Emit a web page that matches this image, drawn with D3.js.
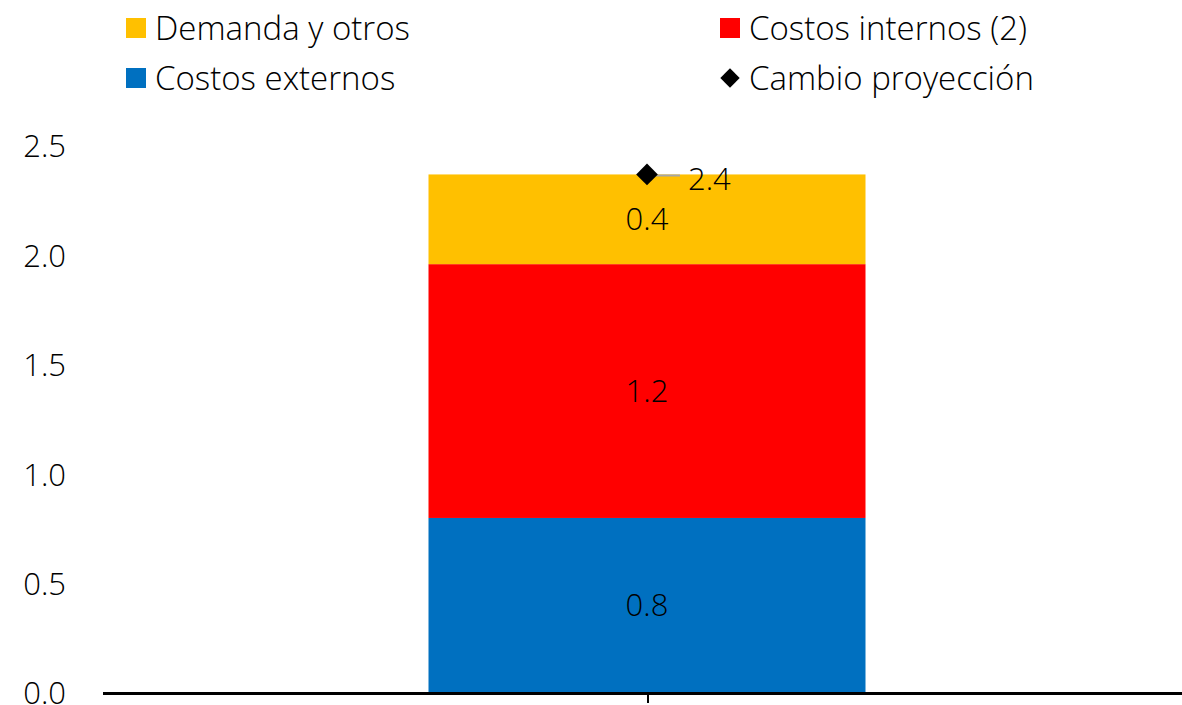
<!DOCTYPE html>
<html>
<head>
<meta charset="utf-8">
<script src="https://cdn.jsdelivr.net/npm/d3@7"></script>
<style>
  body { margin: 0; background: #fff; }
  svg text { font-family: "Open Sans", Lato, sans-serif; font-weight: 300; fill: #000; }
</style>
</head>
<body>
<svg width="1182" height="705"></svg>
<script>
var categories = ["2024"];
var seriesNames = ["Costos externos", "Costos internos (2)", "Demanda y otros"];
var seriesColors = ["#0070c0", "#ff0000", "#ffc000"];
var costosExternos = [0.80];
var costosInternos = [1.16];
var demandaOtros = [0.41];
var cambioProyeccion = [2.37];
var yTicks = [0, 0.5, 1.0, 1.5, 2.0, 2.5];

function init() {
    var svg = d3.select('svg');
    var numSize = '31px';

    var x = d3.scaleBand().domain(categories).range([103, 1192]).paddingInner(0).paddingOuter(0.3);
    var y = d3.scaleLinear().domain([0, 2.5]).range([693, 146]);

    var rows = categories.map(function (c, i) {
        return { cat: c, v0: costosExternos[i], v1: costosInternos[i], v2: demandaOtros[i] };
    });
    var stack = d3.stack().keys(["v0", "v1", "v2"])(rows);

    // y axis labels only
    var yAxis = d3.axisLeft(y).tickValues(yTicks).tickFormat(d3.format('.1f')).tickSize(0).tickPadding(0);
    var gy = svg.append('g').attr('transform', 'translate(66,0)').call(yAxis);
    gy.select('.domain').remove();
    gy.selectAll('text').style('font-size', numSize).attr('dy', '0.35em');

    // bars
    var barW = 437;
    var cx = 647;
    var layer = svg.selectAll('.layer').data(stack).enter().append('g')
        .attr('class', 'layer')
        .attr('fill', function (d, i) { return seriesColors[i]; });
    layer.selectAll('rect').data(function (d) { return d; }).enter().append('rect')
        .attr('x', cx - barW / 2)
        .attr('width', barW)
        .attr('y', function (d) { return y(d[1]); })
        .attr('height', function (d) { return y(d[0]) - y(d[1]); });

    // segment labels
    stack.forEach(function (s) {
        s.forEach(function (d) {
            svg.append('text')
                .attr('x', cx)
                .attr('y', (y(d[0]) + y(d[1])) / 2)
                .attr('dy', '0.35em')
                .attr('text-anchor', 'middle')
                .style('font-size', numSize)
                .text(d3.format('.1f')(d[1] - d[0]));
        });
    });

    // x axis
    var xAxis = d3.axisBottom(x).tickSize(10).tickFormat('');
    var gx = svg.append('g').attr('transform', 'translate(0,' + y(0) + ')').call(xAxis);
    gx.select('.domain').attr('d', 'M103,0.5H1182').attr('stroke', '#000').attr('stroke-width', 3);
    gx.selectAll('.tick line').attr('stroke', '#000').attr('stroke-width', 2).attr('x1', 0.5).attr('x2', 0.5);

    // cambio proyeccion marker
    cambioProyeccion.forEach(function (v) {
        svg.append('line')
            .attr('x1', cx).attr('x2', cx + 33)
            .attr('y1', y(v) + 1).attr('y2', y(v) + 1)
            .attr('stroke', '#a6a6a6').attr('stroke-width', 2);
        svg.append('path')
            .attr('d', d3.symbol(d3.symbolDiamond2, 300)())
            .attr('transform', 'translate(' + cx + ',' + y(v) + ')')
            .attr('fill', '#000');
        svg.append('text')
            .attr('x', cx + 41)
            .attr('y', y(v) + 5)
            .attr('dy', '0.35em')
            .style('font-size', numSize)
            .text(d3.format('.1f')(v));
    });

    // legend
    var legend = [
        { name: seriesNames[2], color: seriesColors[2], x: 126, y: 28, shape: 'square' },
        { name: seriesNames[1], color: seriesColors[1], x: 720, y: 28, shape: 'square' },
        { name: seriesNames[0], color: seriesColors[0], x: 126, y: 78, shape: 'square' },
        { name: 'Cambio proyección', color: '#000', x: 720, y: 78, shape: 'diamond' }
    ];
    var lg = svg.selectAll('.lg').data(legend).enter().append('g')
        .attr('class', 'lg')
        .attr('transform', function (d) { return 'translate(' + d.x + ',' + d.y + ')'; });
    lg.filter(function (d) { return d.shape === 'square'; }).append('rect')
        .attr('x', 0).attr('y', -10).attr('width', 20).attr('height', 20)
        .attr('fill', function (d) { return d.color; });
    lg.filter(function (d) { return d.shape === 'diamond'; }).append('path')
        .attr('d', d3.symbol(d3.symbolDiamond2, 240)())
        .attr('transform', 'translate(10,0)')
        .attr('fill', '#000');
    lg.append('text')
        .attr('x', 29)
        .attr('dy', '0.35em')
        .style('font-size', '33px')
        .text(function (d) { return d.name; });
}
init();
</script>
</body>
</html>
